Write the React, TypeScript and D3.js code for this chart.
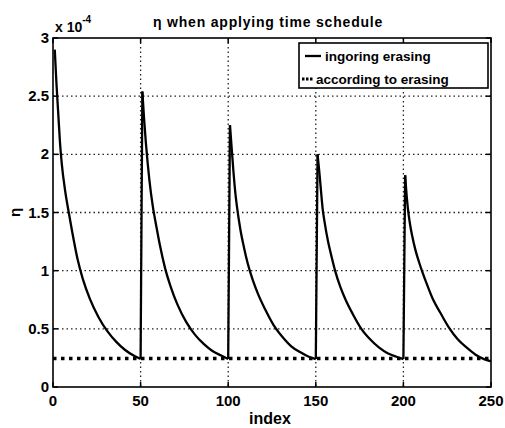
import React from "react";
import * as d3 from "d3";

const xTicks = [0, 50, 100, 150, 200, 250];
const yTicks = [0, 0.5, 1, 1.5, 2, 2.5, 3];
const yTickLabels = ["0", "0.5", "1", "1.5", "2", "2.5", "3"];

// "ingoring erasing" (values in units of 1e-4)
const ignoreIdx = [
  1, 2, 3, 4, 5, 7, 9, 11, 14, 17, 21, 26, 31, 36, 41, 46, 50,
  51, 52, 53, 54, 55, 57, 59, 61, 64, 67, 71, 76, 81, 86, 91, 96, 100,
  101, 102, 103, 104, 105, 107, 109, 111, 114, 117, 121, 126, 131, 136, 141, 146, 150,
  151, 152, 153, 154, 155, 157, 159, 161, 164, 167, 171, 176, 181, 186, 191, 196, 200,
  201, 202, 203, 204, 205, 207, 209, 211, 214, 217, 221, 226, 231, 236, 241, 246, 250,
];
const ignoreVal = [
  2.9, 2.6, 2.35, 2.1, 1.92, 1.68, 1.5, 1.33, 1.1, 0.93, 0.76, 0.6, 0.48, 0.39, 0.32, 0.27, 0.24,
  2.54, 2.3, 2.1, 1.93, 1.78, 1.55, 1.38, 1.22, 1.02, 0.87, 0.71, 0.56, 0.45, 0.37, 0.31, 0.27, 0.24,
  2.25, 2.05, 1.85, 1.68, 1.55, 1.35, 1.2, 1.07, 0.92, 0.8, 0.67, 0.53, 0.43, 0.35, 0.3, 0.26, 0.24,
  2.0, 1.85, 1.68, 1.52, 1.42, 1.25, 1.12, 1.0, 0.86, 0.75, 0.63, 0.5, 0.41, 0.34, 0.29, 0.26, 0.24,
  1.82, 1.62, 1.48, 1.38, 1.3, 1.17, 1.07, 0.98, 0.86, 0.75, 0.64, 0.51, 0.41, 0.34, 0.28, 0.24, 0.22,
];
// "according to erasing"
const accordIdx = [0, 250];
const accordVal = [0.245, 0.245];

const W = 505;
const H = 428;
const M = { left: 53, right: 491, top: 38, bottom: 387 };
const font = "'Liberation Sans', Arial, sans-serif";

export default function App() {
  const x = d3.scaleLinear().domain([0, 250]).range([M.left, M.right]);
  const y = d3.scaleLinear().domain([0, 3]).range([M.bottom, M.top]);

  const ignorePts: [number, number][] = ignoreIdx.map((d, i) => [d, ignoreVal[i]]);
  const segments: [number, number][][] = [];
  let cur: [number, number][] = [];
  ignorePts.forEach((p, i) => {
    if (i > 0 && p[1] > ignorePts[i - 1][1] + 0.5) {
      segments.push(cur);
      cur = [];
    }
    cur.push(p);
  });
  segments.push(cur);

  const line = d3
    .line<[number, number]>()
    .x((d) => x(d[0]))
    .y((d) => y(d[1]))
    .curve(d3.curveMonotoneX);
  const straight = d3
    .line<[number, number]>()
    .x((d) => x(d[0]))
    .y((d) => y(d[1]));

  const jumps: [number, number][][] = [];
  for (let s = 1; s < segments.length; s++) {
    const prev = segments[s - 1];
    jumps.push([prev[prev.length - 1], segments[s][0]]);
  }

  const accordPts: [number, number][] = accordIdx.map((d, i) => [d, accordVal[i]]);

  return (
    <svg width={W} height={H} style={{ position: "absolute", left: 0, top: 0, background: "#fff" }}>
      <rect x={0} y={0} width={W} height={H} fill="#fff" />
      {/* grid */}
      {xTicks.slice(1, -1).map((t) => (
        <line key={"gx" + t} x1={x(t)} x2={x(t)} y1={M.top} y2={M.bottom} stroke="#222" strokeWidth={1.3} strokeDasharray="1.5,3" />
      ))}
      {yTicks.slice(1, -1).map((t) => (
        <line key={"gy" + t} x1={M.left} x2={M.right} y1={y(t)} y2={y(t)} stroke="#222" strokeWidth={1.3} strokeDasharray="1.5,3" />
      ))}
      {/* ticks inward */}
      {xTicks.map((t) => (
        <g key={"tx" + t}>
          <line x1={x(t)} x2={x(t)} y1={M.bottom} y2={M.bottom - 5} stroke="#000" strokeWidth={1.5} />
          <line x1={x(t)} x2={x(t)} y1={M.top} y2={M.top + 5} stroke="#000" strokeWidth={1.5} />
          <text x={x(t)} y={M.bottom + 19} textAnchor="middle" fontFamily={font} fontWeight="bold" fontSize={15}>
            {t}
          </text>
        </g>
      ))}
      {yTicks.map((t, i) => (
        <g key={"ty" + t}>
          <line x1={M.left} x2={M.left + 5} y1={y(t)} y2={y(t)} stroke="#000" strokeWidth={1.5} />
          <line x1={M.right} x2={M.right - 5} y1={y(t)} y2={y(t)} stroke="#000" strokeWidth={1.5} />
          <text x={M.left - 4} y={y(t) + 5} textAnchor="end" fontFamily={font} fontWeight="bold" fontSize={15}>
            {yTickLabels[i]}
          </text>
        </g>
      ))}
      {/* dotted series */}
      <path d={straight(accordPts) || ""} fill="none" stroke="#000" strokeWidth={3.5} strokeDasharray="3.5,4.5" />
      {/* solid series */}
      {segments.map((s, i) => (
        <path key={"s" + i} d={line(s) || ""} fill="none" stroke="#000" strokeWidth={2.3} />
      ))}
      {jumps.map((s, i) => (
        <path key={"j" + i} d={straight(s) || ""} fill="none" stroke="#000" strokeWidth={2.3} />
      ))}
      {/* frame */}
      <rect x={M.left} y={M.top} width={M.right - M.left} height={M.bottom - M.top} fill="none" stroke="#000" strokeWidth={1.6} />
      {/* legend */}
      <rect x={299} y={43} width={189} height={45} fill="#fff" stroke="#000" strokeWidth={1.6} />
      <line x1={305} x2={321} y1={56} y2={56} stroke="#000" strokeWidth={2.3} />
      <text x={325} y={61} fontFamily={font} fontWeight="bold" fontSize={13.5}>
        ingoring erasing
      </text>
      <line x1={302} x2={314} y1={79} y2={79} stroke="#000" strokeWidth={3} strokeDasharray="2.5,1.5" />
      <text x={316} y={84} fontFamily={font} fontWeight="bold" fontSize={13.5}>
        according to erasing
      </text>
      {/* title */}
      <text x={153} y={27} fontFamily={font} fontWeight="bold" fontSize={14} letterSpacing={0.8}>
        η when applying time schedule
      </text>
      {/* exponent */}
      <text x={55} y={32} fontFamily={font} fontWeight="bold" fontSize={14}>
        x 10
        <tspan dy={-9} fontSize={10}>-4</tspan>
      </text>
      {/* axis labels */}
      <text x={270} y={424} textAnchor="middle" fontFamily={font} fontWeight="bold" fontSize={16}>
        index
      </text>
      <text transform={`translate(20,${(M.top + M.bottom) / 2}) rotate(-90)`} textAnchor="middle" fontFamily={font} fontWeight="bold" fontSize={15}>
        η
      </text>
    </svg>
  );
}
